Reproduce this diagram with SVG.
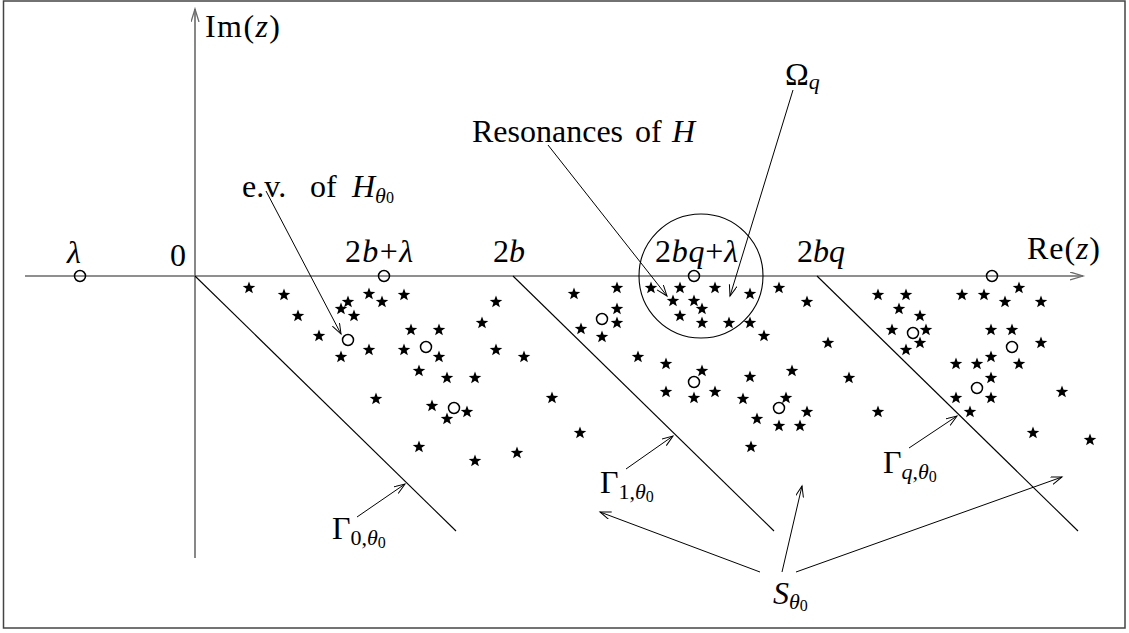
<svg xmlns="http://www.w3.org/2000/svg" xmlns:xlink="http://www.w3.org/1999/xlink" width="1129" height="633" viewBox="0 0 1129 633">
<style>
.frame{fill:none;stroke:#444;stroke-width:1.5}
.axis{fill:none;stroke:#6a6a6a;stroke-width:1.6}
.ray{fill:none;stroke:#000;stroke-width:1.1}
.conn{fill:none;stroke:#000;stroke-width:1}
.pt{fill:none;stroke:#000;stroke-width:1.5}
.st{fill:#000}
text{font-family:"Liberation Serif","DejaVu Serif",serif;font-size:32px;fill:#000}
.it{font-style:italic}
.sub{font-size:22px}
.sub2{font-size:16px}
</style>
<defs>
<path id="star" d="M0,-6.6 L1.6,-2.2 L6.3,-2.05 L2.6,0.84 L3.9,5.35 L0,2.7 L-3.9,5.35 L-2.6,0.84 L-6.3,-2.05 L-1.6,-2.2 Z"/>
<marker id="arr" markerUnits="userSpaceOnUse" markerWidth="14" markerHeight="10" refX="11" refY="4" orient="auto">
<path d="M0,0 L11,4 L0,8" fill="none" stroke="#000" stroke-width="1"/>
</marker>
<marker id="axarr" markerUnits="userSpaceOnUse" markerWidth="16" markerHeight="10" refX="13" refY="4" orient="auto">
<path d="M0,0 L13,4 L0,8" fill="none" stroke="#6a6a6a" stroke-width="1.3"/>
</marker>
</defs>
<rect id="frame" class="frame" x="3.5" y="1" width="1121.5" height="627"/>
<g id="axes">
<line class="axis" x1="25" y1="276" x2="1083" y2="276" marker-end="url(#axarr)"/>
<line class="axis" x1="195" y1="558" x2="195" y2="9" marker-end="url(#axarr)"/>
</g>
<g id="rays">
<line id="gamma0" class="ray" x1="195" y1="276" x2="456" y2="531"/>
<line id="gamma1" class="ray" x1="513" y1="276" x2="774" y2="531"/>
<line id="gammaq" class="ray" x1="817" y1="276" x2="1078" y2="531"/>
</g>
<circle id="omega" class="ray" cx="701" cy="276" r="62"/>
<g id="stars" class="st">
<use href="#star" x="249" y="288"/><use href="#star" x="284" y="295"/><use href="#star" x="298" y="316"/><use href="#star" x="348" y="302"/><use href="#star" x="341" y="309"/><use href="#star" x="354" y="316"/><use href="#star" x="369" y="294"/><use href="#star" x="382" y="302"/><use href="#star" x="404" y="295"/><use href="#star" x="319" y="336"/><use href="#star" x="369" y="350"/><use href="#star" x="341" y="357"/><use href="#star" x="376" y="399"/>
<use href="#star" x="496" y="302"/><use href="#star" x="482" y="323"/><use href="#star" x="411" y="330"/><use href="#star" x="439" y="330"/><use href="#star" x="404" y="350"/><use href="#star" x="439" y="357"/><use href="#star" x="496" y="350"/><use href="#star" x="524" y="357"/><use href="#star" x="419" y="371"/><use href="#star" x="447" y="378"/><use href="#star" x="475" y="378"/><use href="#star" x="552" y="398"/><use href="#star" x="432" y="406"/><use href="#star" x="467" y="412"/><use href="#star" x="447" y="419"/><use href="#star" x="419" y="447"/><use href="#star" x="475" y="461"/><use href="#star" x="517" y="453"/><use href="#star" x="580" y="433"/>
<use href="#star" x="574" y="294"/><use href="#star" x="617" y="288"/><use href="#star" x="617" y="309"/><use href="#star" x="617" y="323"/><use href="#star" x="581" y="329"/><use href="#star" x="602" y="337"/><use href="#star" x="651" y="288"/><use href="#star" x="680" y="288"/><use href="#star" x="715" y="288"/><use href="#star" x="750" y="294"/><use href="#star" x="673" y="301"/><use href="#star" x="694" y="301"/><use href="#star" x="702" y="309"/><use href="#star" x="680" y="316"/><use href="#star" x="702" y="323"/><use href="#star" x="729" y="323"/><use href="#star" x="750" y="323"/><use href="#star" x="638" y="357"/><use href="#star" x="666" y="364"/><use href="#star" x="702" y="371"/><use href="#star" x="666" y="392"/><use href="#star" x="694" y="398"/><use href="#star" x="715" y="392"/><use href="#star" x="750" y="377"/><use href="#star" x="743" y="399"/><use href="#star" x="757" y="419"/>
<use href="#star" x="779" y="288"/><use href="#star" x="807" y="302"/><use href="#star" x="764" y="336"/><use href="#star" x="828" y="343"/><use href="#star" x="792" y="371"/><use href="#star" x="849" y="378"/><use href="#star" x="786" y="398"/><use href="#star" x="807" y="412"/><use href="#star" x="779" y="426"/><use href="#star" x="800" y="426"/><use href="#star" x="878" y="412"/><use href="#star" x="751" y="447"/>
<use href="#star" x="878" y="295"/><use href="#star" x="906" y="295"/><use href="#star" x="899" y="309"/><use href="#star" x="920" y="316"/><use href="#star" x="892" y="330"/><use href="#star" x="926" y="330"/><use href="#star" x="920" y="343"/><use href="#star" x="906" y="350"/>
<use href="#star" x="962" y="295"/><use href="#star" x="984" y="295"/><use href="#star" x="1019" y="288"/><use href="#star" x="1005" y="302"/><use href="#star" x="1041" y="302"/><use href="#star" x="991" y="330"/><use href="#star" x="1012" y="330"/><use href="#star" x="1041" y="343"/><use href="#star" x="956" y="364"/><use href="#star" x="977" y="364"/><use href="#star" x="991" y="357"/><use href="#star" x="1019" y="364"/><use href="#star" x="991" y="378"/><use href="#star" x="956" y="398"/><use href="#star" x="991" y="398"/><use href="#star" x="970" y="412"/><use href="#star" x="1062" y="392"/><use href="#star" x="1033" y="433"/><use href="#star" x="1090" y="440"/>
</g>
<g id="eigenvalues" class="pt">
<circle cx="80" cy="276" r="5.5"/><circle cx="384" cy="276" r="5.5"/><circle cx="694" cy="276" r="5.5"/><circle cx="992" cy="276" r="5.5"/>
<circle cx="348" cy="340" r="5.5"/><circle cx="426" cy="347" r="5.5"/><circle cx="454" cy="408" r="5.5"/><circle cx="602" cy="319" r="5.5"/><circle cx="694" cy="382" r="5.5"/><circle cx="779" cy="408" r="5.5"/><circle cx="913" cy="333" r="5.5"/><circle cx="1012" cy="347" r="5.5"/><circle cx="977" cy="388" r="5.5"/>
</g>
<g id="connectors">
<line class="conn" x1="266" y1="191" x2="341" y2="334" marker-end="url(#arr)"/>
<line class="conn" x1="548" y1="145" x2="667" y2="296" marker-end="url(#arr)"/>
<line class="conn" x1="793" y1="90" x2="730" y2="296" marker-end="url(#arr)"/>
<line class="conn" x1="357" y1="517" x2="405" y2="484" marker-end="url(#arr)"/>
<line class="conn" x1="626" y1="469" x2="673" y2="436" marker-end="url(#arr)"/>
<line class="conn" x1="909" y1="448" x2="957" y2="416" marker-end="url(#arr)"/>
<line class="conn" x1="760" y1="572" x2="600" y2="512" marker-end="url(#arr)"/>
<line class="conn" x1="782" y1="572" x2="802" y2="486" marker-end="url(#arr)"/>
<line class="conn" x1="796" y1="572" x2="1062" y2="477" marker-end="url(#arr)"/>
</g>
<g id="label-im"><text x="205" y="37" textLength="75">Im(<tspan class="it">z</tspan>)</text></g>
<g id="label-re"><text x="1027" y="259" textLength="73">Re(<tspan class="it">z</tspan>)</text></g>
<g id="label-lambda"><text x="67" y="263" class="it">λ</text></g>
<g id="label-0"><text x="170" y="266">0</text></g>
<g id="label-2bl"><text x="345" y="262" textLength="68">2<tspan class="it">b</tspan>+<tspan class="it">λ</tspan></text></g>
<g id="label-2b"><text x="493" y="262">2<tspan class="it">b</tspan></text></g>
<g id="label-2bql"><text x="655" y="262" textLength="83">2<tspan class="it">bq</tspan>+<tspan class="it">λ</tspan></text></g>
<g id="label-2bq"><text x="797" y="262">2<tspan class="it">bq</tspan></text></g>
<g id="label-omega"><text x="785" y="85">Ω<tspan class="sub it" dy="4">q</tspan></text></g>
<g id="label-ev"><text x="242" y="197">e.v.<tspan x="310">of</tspan><tspan x="352" class="it">H</tspan><tspan class="sub it" dy="6">θ</tspan><tspan class="sub2">0</tspan></text></g>
<g id="label-res"><text x="472" y="142">Resonances<tspan x="635">of</tspan><tspan x="672" class="it">H</tspan></text></g>
<g id="label-g0"><text x="332" y="539">Γ<tspan class="sub" dy="6">0,</tspan><tspan class="sub it">θ</tspan><tspan class="sub2" dy="3">0</tspan></text></g>
<g id="label-g1"><text x="600" y="493">Γ<tspan class="sub" dy="6">1,</tspan><tspan class="sub it">θ</tspan><tspan class="sub2" dy="3">0</tspan></text></g>
<g id="label-gq"><text x="883" y="473">Γ<tspan class="sub it" dy="6">q</tspan><tspan class="sub">,</tspan><tspan class="sub it">θ</tspan><tspan class="sub2" dy="3">0</tspan></text></g>
<g id="label-s"><text x="773" y="604" class="it">S<tspan class="sub" dy="5">θ</tspan><tspan class="sub2" dy="2" font-style="normal">0</tspan></text></g>
</svg>
